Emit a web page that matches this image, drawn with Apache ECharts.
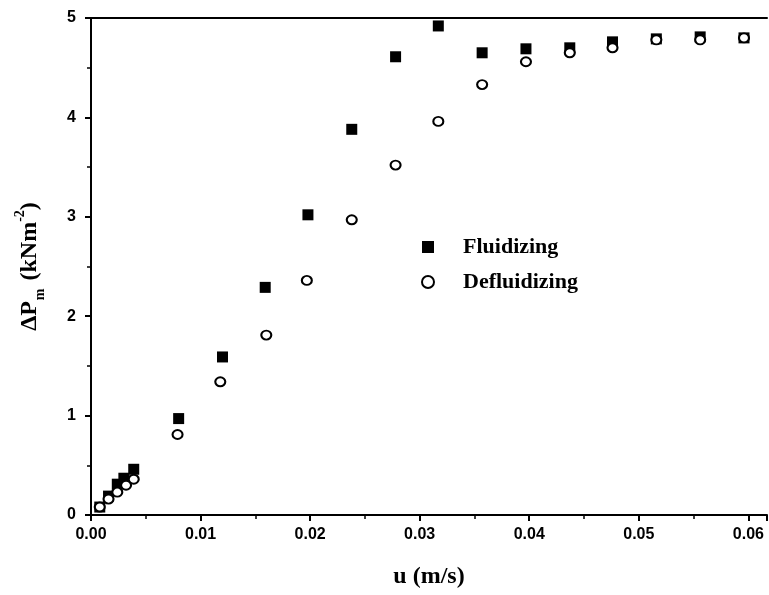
<!DOCTYPE html>
<html><head><meta charset="utf-8">
<script src="https://cdn.jsdelivr.net/npm/echarts@6/dist/echarts.min.js"></script>
<style>html,body{margin:0;padding:0;background:#fff}#c{width:769px;height:595px}</style>
</head><body><div id="c"></div>
<script>
const seriesNames = ['Fluidizing', 'Defluidizing'];
const fluidU  = [0.0008, 0.0016, 0.0024, 0.0030, 0.0039, 0.0080, 0.0120, 0.0159, 0.0198, 0.0238, 0.0278, 0.0317, 0.0357, 0.0397, 0.0437, 0.0476, 0.0516, 0.0556, 0.0596];
const fluidP  = [0.08, 0.19, 0.31, 0.37, 0.46, 0.97, 1.59, 2.29, 3.02, 3.88, 4.61, 4.92, 4.65, 4.69, 4.70, 4.76, 4.79, 4.81, 4.80];
const defluU  = [0.0008, 0.0016, 0.0024, 0.0032, 0.0039, 0.0079, 0.0118, 0.0160, 0.0197, 0.0238, 0.0278, 0.0317, 0.0357, 0.0397, 0.0437, 0.0476, 0.0516, 0.0556, 0.0596];
const defluP  = [0.08, 0.16, 0.23, 0.30, 0.36, 0.81, 1.34, 1.81, 2.36, 2.97, 3.52, 3.96, 4.33, 4.56, 4.65, 4.70, 4.78, 4.78, 4.80];
const xTicks = { min: 0, max: 0.0617, interval: 0.01 };
const yTicks = { min: 0, max: 5, interval: 1 };

const pair = (xs, ys) => xs.map((x, i) => [x, ys[i]]);
const chart = echarts.init(document.getElementById('c'));
const tickLabel = { fontFamily: 'Liberation Sans, Arial', fontWeight: 'bold', fontSize: 16, color: '#000' };
const serif = 'Liberation Serif, Times New Roman';
chart.setOption({
  animation: false,
  backgroundColor: '#fff',
  grid: { left: 91, right: 2, top: 18, bottom: 80 },
  legend: {
    orient: 'vertical', left: 416, top: 231, itemGap: 13,
    itemWidth: 12, itemHeight: 12,
    textStyle: { fontFamily: serif, fontWeight: 'bold', fontSize: 22, color: '#000', padding: [0, 0, 0, 24] },
    data: seriesNames
  },
  xAxis: [{
    type: 'value', min: xTicks.min, max: xTicks.max, interval: xTicks.interval,
    axisLine: { show: true, lineStyle: { color: '#000', width: 2 } },
    axisTick: { show: true, inside: false, length: 6, lineStyle: { width: 2, color: '#000' } },
    minorTick: { show: true, splitNumber: 2, length: 4, lineStyle: { width: 1.5, color: '#000' } },
    splitLine: { show: false },
    axisLabel: Object.assign({ margin: 12, formatter: v => v > 0.0605 ? '' : v.toFixed(2), showMaxLabel: false }, tickLabel),
    name: 'u (m/s)', nameLocation: 'middle', nameGap: 50,
    nameTextStyle: { fontFamily: serif, fontWeight: 'bold', fontSize: 24, color: '#000' }
  }, {
    type: 'value', position: 'top', min: xTicks.min, max: xTicks.max,
    axisLine: { show: true, lineStyle: { color: '#000', width: 2 } },
    axisTick: { show: false }, axisLabel: { show: false }, splitLine: { show: false }
  }],
  yAxis: {
    type: 'value', min: yTicks.min, max: yTicks.max, interval: yTicks.interval,
    axisLine: { show: true, lineStyle: { color: '#000', width: 2 } },
    axisTick: { show: true, inside: false, length: 6, lineStyle: { width: 2, color: '#000' } },
    minorTick: { show: true, splitNumber: 2, length: 4, lineStyle: { width: 1.5, color: '#000' } },
    splitLine: { show: false },
    axisLabel: Object.assign({ margin: 15 }, tickLabel),
    name: '{a|ΔP}{sub|m}{a| (kNm}{sup|-2}{a|)}', nameLocation: 'middle', nameGap: 44, nameRotate: 90,
    nameTextStyle: {
      color: '#000',
      rich: {
        a: { fontFamily: serif, fontWeight: 'bold', fontSize: 24, color: '#000', lineHeight: 34, verticalAlign: 'middle' },
        sub: { fontFamily: serif, fontWeight: 'bold', fontSize: 14, color: '#000', lineHeight: 34, verticalAlign: 'bottom', padding: [0, 2, 0, 1] },
        sup: { fontFamily: serif, fontWeight: 'bold', fontSize: 14, color: '#000', lineHeight: 34, verticalAlign: 'top' }
      }
    }
  },
  series: [{
    name: seriesNames[0], type: 'scatter', symbol: 'rect', symbolSize: 11,
    itemStyle: { color: '#000', opacity: 1 }, data: pair(fluidU, fluidP), z: 2
  }, {
    name: seriesNames[1], type: 'scatter', symbol: 'circle', symbolSize: [10, 9],
    itemStyle: { color: '#fff', borderColor: '#000', borderWidth: 2, opacity: 1 }, data: pair(defluU, defluP), z: 3
  }]
});
</script></body></html>
